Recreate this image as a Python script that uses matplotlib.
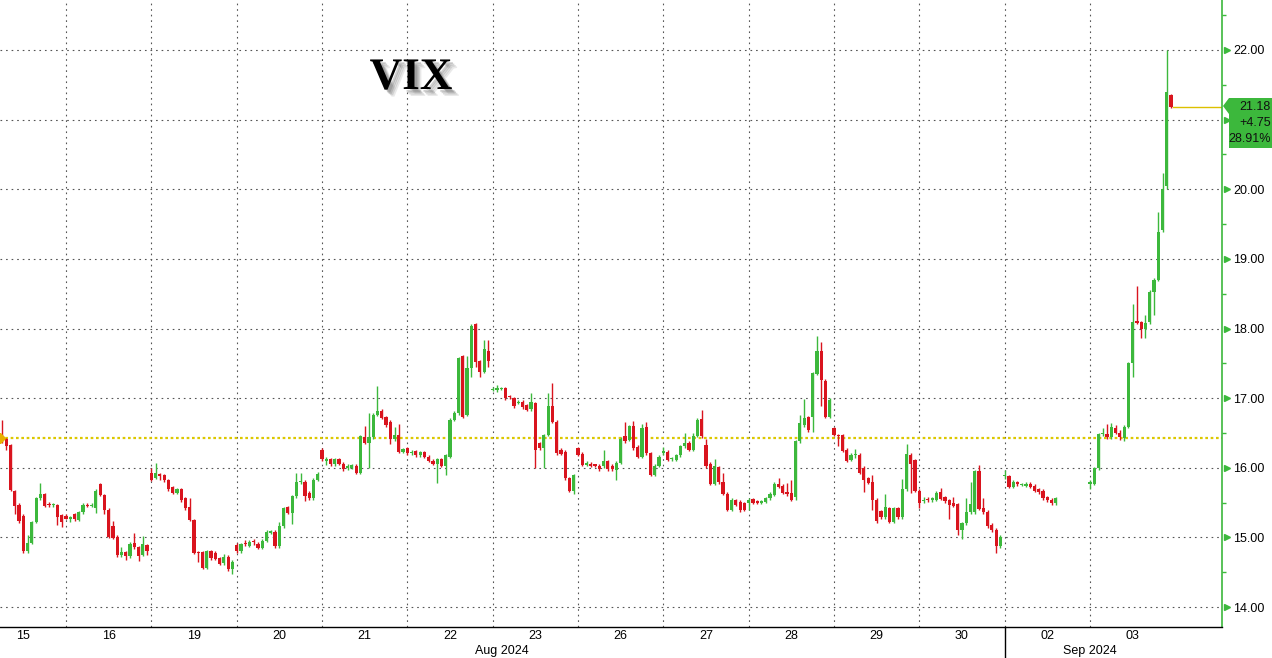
import matplotlib
matplotlib.use('Agg')
import matplotlib.pyplot as plt
import matplotlib.patheffects as pe
from matplotlib.patches import Polygon

plt.rcParams['font.family'] = ['Liberation Sans', 'DejaVu Sans']

# 20-minute VIX candles, (open, high, low, close), one list per session
aug15 = [(16.45, 16.69, 16.36, 16.40), (16.41, 16.43, 16.25, 16.31), (16.32, 16.34, 15.66, 15.68),
         (15.66, 15.68, 15.33, 15.45), (15.46, 15.49, 15.21, 15.23), (15.31, 15.33, 14.78, 14.80),
         (14.80, 15.04, 14.77, 14.92), (14.92, 15.24, 14.90, 15.22), (15.22, 15.58, 15.20, 15.56),
         (15.56, 15.78, 15.53, 15.63), (15.62, 15.64, 15.43, 15.45), (15.48, 15.51, 15.43, 15.46),
         (15.46, 15.50, 15.43, 15.48), (15.46, 15.48, 15.18, 15.30), (15.32, 15.34, 15.15, 15.22)]
aug16 = [(15.31, 15.33, 15.26, 15.27), (15.27, 15.31, 15.22, 15.29), (15.33, 15.35, 15.24, 15.26),
         (15.25, 15.38, 15.23, 15.36), (15.36, 15.49, 15.34, 15.47), (15.47, 15.50, 15.44, 15.45),
         (15.45, 15.49, 15.43, 15.47), (15.42, 15.69, 15.35, 15.67), (15.76, 15.78, 15.59, 15.61),
         (15.61, 15.63, 15.33, 15.39), (15.40, 15.42, 14.99, 15.01), (15.17, 15.23, 14.97, 14.99),
         (15.01, 15.03, 14.72, 14.74), (14.74, 14.86, 14.72, 14.79), (14.79, 14.81, 14.67, 14.73),
         (14.73, 14.93, 14.71, 14.91), (14.92, 15.07, 14.84, 14.86), (14.86, 14.88, 14.66, 14.73),
         (14.75, 15.02, 14.73, 14.90), (14.89, 14.91, 14.75, 14.81)]
aug19 = [(15.93, 16.00, 15.81, 15.83), (15.86, 16.07, 15.84, 15.92), (15.91, 15.92, 15.83, 15.88),
         (15.89, 15.91, 15.80, 15.82), (15.82, 15.84, 15.67, 15.69), (15.72, 15.74, 15.62, 15.64),
         (15.64, 15.71, 15.62, 15.69), (15.69, 15.71, 15.51, 15.53), (15.56, 15.58, 15.40, 15.42),
         (15.44, 15.57, 15.23, 15.25), (15.25, 15.27, 14.76, 14.78), (14.78, 14.80, 14.65, 14.77),
         (14.79, 14.81, 14.54, 14.56), (14.56, 14.82, 14.54, 14.80), (14.80, 14.82, 14.68, 14.70),
         (14.78, 14.80, 14.67, 14.69), (14.70, 14.72, 14.60, 14.62), (14.63, 14.76, 14.61, 14.72),
         (14.72, 14.74, 14.52, 14.54), (14.55, 14.67, 14.48, 14.65)]
aug20 = [(14.89, 14.92, 14.78, 14.80), (14.80, 14.92, 14.78, 14.90), (14.91, 14.96, 14.88, 14.90),
         (14.88, 14.96, 14.86, 14.94), (14.94, 14.97, 14.89, 14.93), (14.91, 14.93, 14.83, 14.85),
         (14.85, 14.97, 14.83, 14.95), (14.95, 15.10, 14.93, 15.08), (15.07, 15.11, 15.05, 15.08),
         (15.08, 15.10, 14.85, 14.87), (14.87, 15.22, 14.85, 15.16), (15.16, 15.44, 15.14, 15.42),
         (15.43, 15.45, 15.33, 15.35), (15.35, 15.61, 15.19, 15.59), (15.59, 15.92, 15.57, 15.80),
         (15.79, 15.92, 15.77, 15.81), (15.80, 15.82, 15.52, 15.59), (15.64, 15.66, 15.54, 15.56),
         (15.56, 15.85, 15.54, 15.83), (15.83, 15.94, 15.81, 15.91)]
aug21 = [(16.26, 16.28, 16.10, 16.12), (16.10, 16.16, 16.04, 16.13), (16.12, 16.14, 16.03, 16.05),
         (16.05, 16.14, 16.03, 16.12), (16.12, 16.14, 16.04, 16.06), (16.06, 16.08, 15.96, 15.98),
         (15.99, 16.05, 15.97, 16.03), (16.00, 16.06, 15.98, 16.04), (16.03, 16.05, 15.91, 15.93),
         (15.93, 16.47, 15.91, 16.45), (16.44, 16.60, 16.34, 16.36), (16.36, 16.78, 15.99, 16.44),
         (16.44, 16.78, 16.42, 16.76), (16.76, 17.18, 16.74, 16.82), (16.82, 16.84, 16.70, 16.72),
         (16.73, 16.75, 16.59, 16.61), (16.66, 16.68, 16.34, 16.41), (16.41, 16.59, 16.39, 16.47),
         (16.47, 16.63, 16.21, 16.23), (16.23, 16.29, 16.21, 16.27)]
aug22 = [(16.28, 16.30, 16.19, 16.21), (16.21, 16.26, 16.18, 16.23), (16.24, 16.26, 16.16, 16.18),
         (16.18, 16.24, 16.16, 16.22), (16.22, 16.24, 16.14, 16.16), (16.16, 16.18, 16.08, 16.10),
         (16.10, 16.12, 16.04, 16.06), (16.06, 16.14, 15.78, 16.12), (16.12, 16.14, 16.01, 16.03),
         (16.02, 16.20, 15.90, 16.18), (16.16, 16.72, 16.14, 16.69), (16.69, 16.82, 16.67, 16.78),
         (16.78, 17.59, 16.76, 17.57), (17.60, 17.62, 16.71, 16.73), (16.76, 17.60, 16.74, 17.43),
         (17.43, 18.06, 17.30, 18.04), (18.06, 18.08, 17.44, 17.52), (17.53, 17.55, 17.30, 17.38),
         (17.38, 17.83, 17.36, 17.70), (17.67, 17.84, 17.44, 17.54)]
aug23 = [(17.12, 17.16, 17.10, 17.13), (17.12, 17.19, 17.09, 17.14), (17.13, 17.16, 17.11, 17.14),
         (17.14, 17.16, 16.98, 17.00), (17.02, 17.04, 16.99, 17.01), (17.00, 17.02, 16.86, 16.88),
         (16.93, 16.97, 16.91, 16.95), (16.95, 16.97, 16.85, 16.87), (16.90, 16.92, 16.81, 16.83),
         (16.84, 17.08, 16.82, 16.94), (16.93, 16.95, 15.99, 16.26), (16.35, 16.37, 16.26, 16.28),
         (16.28, 16.49, 15.99, 16.47), (16.47, 17.08, 16.45, 16.88), (16.88, 17.22, 16.64, 16.66),
         (16.66, 16.68, 16.19, 16.21), (16.26, 16.28, 16.18, 16.20), (16.23, 16.25, 15.83, 15.85),
         (15.85, 15.87, 15.65, 15.67), (15.67, 15.91, 15.63, 15.89)]
aug26 = [(16.28, 16.30, 16.17, 16.19), (16.20, 16.22, 16.02, 16.04), (16.04, 16.09, 16.02, 16.07),
         (16.06, 16.08, 16.01, 16.03), (16.04, 16.06, 16.01, 16.03), (16.03, 16.05, 15.96, 15.98),
         (16.02, 16.26, 16.00, 16.09), (16.09, 16.11, 15.96, 15.98), (16.03, 16.05, 15.96, 15.98),
         (15.97, 16.09, 15.83, 16.07), (16.07, 16.44, 16.05, 16.42), (16.45, 16.66, 16.36, 16.38),
         (16.40, 16.62, 16.38, 16.60), (16.60, 16.67, 16.26, 16.28), (16.30, 16.32, 16.14, 16.16),
         (16.16, 16.63, 16.14, 16.57), (16.59, 16.66, 16.19, 16.21), (16.21, 16.23, 15.88, 15.90),
         (15.90, 16.05, 15.88, 16.03), (16.03, 16.18, 16.01, 16.16)]
aug27 = [(16.21, 16.30, 16.18, 16.24), (16.23, 16.25, 16.09, 16.11), (16.12, 16.16, 16.10, 16.14),
         (16.11, 16.20, 16.09, 16.18), (16.18, 16.33, 16.16, 16.31), (16.31, 16.50, 16.29, 16.36),
         (16.36, 16.38, 16.24, 16.26), (16.26, 16.50, 16.24, 16.46), (16.46, 16.71, 16.44, 16.69),
         (16.70, 16.83, 16.43, 16.45), (16.33, 16.42, 15.99, 16.02), (16.06, 16.08, 15.75, 15.77),
         (15.77, 16.13, 15.75, 16.03), (16.01, 16.03, 15.77, 15.79), (15.80, 15.92, 15.61, 15.63),
         (15.63, 15.65, 15.38, 15.40), (15.40, 15.56, 15.38, 15.54), (15.53, 15.55, 15.45, 15.47),
         (15.51, 15.53, 15.37, 15.39), (15.49, 15.51, 15.38, 15.40)]
aug28 = [(15.50, 15.56, 15.40, 15.54), (15.55, 15.57, 15.48, 15.50), (15.51, 15.53, 15.48, 15.50),
         (15.50, 15.54, 15.48, 15.51), (15.51, 15.58, 15.49, 15.56), (15.56, 15.65, 15.54, 15.63),
         (15.61, 15.79, 15.59, 15.77), (15.77, 15.85, 15.71, 15.73), (15.74, 15.76, 15.62, 15.64),
         (15.65, 15.78, 15.60, 15.62), (15.64, 15.83, 15.52, 15.54), (15.58, 16.40, 15.53, 16.38),
         (16.38, 16.76, 16.36, 16.64), (16.61, 16.99, 16.59, 16.71), (16.73, 16.75, 16.52, 16.54),
         (16.73, 17.38, 16.52, 17.36), (17.35, 17.89, 17.33, 17.68), (17.68, 17.80, 16.88, 17.26),
         (17.25, 17.27, 16.71, 16.73), (16.73, 17.00, 16.71, 16.98)]
aug29 = [(16.57, 16.59, 16.45, 16.47), (16.47, 16.49, 16.31, 16.45), (16.47, 16.49, 16.22, 16.24),
         (16.26, 16.28, 16.08, 16.10), (16.11, 16.21, 16.09, 16.19), (16.18, 16.27, 16.14, 16.20),
         (16.19, 16.21, 15.91, 15.93), (16.00, 16.03, 15.65, 15.83), (15.85, 15.87, 15.76, 15.78),
         (15.80, 15.90, 15.40, 15.54), (15.54, 15.56, 15.21, 15.23), (15.38, 15.40, 15.27, 15.29),
         (15.29, 15.63, 15.27, 15.44), (15.42, 15.44, 15.20, 15.22), (15.22, 15.44, 15.20, 15.42),
         (15.42, 15.44, 15.27, 15.29), (15.29, 15.84, 15.27, 15.69), (15.69, 16.34, 15.67, 16.20),
         (16.19, 16.21, 15.64, 16.06), (16.11, 16.13, 15.65, 15.67)]
aug30 = [(15.67, 15.69, 15.42, 15.49), (15.52, 15.58, 15.50, 15.54), (15.55, 15.58, 15.51, 15.53),
         (15.53, 15.58, 15.51, 15.56), (15.54, 15.66, 15.52, 15.64), (15.65, 15.71, 15.53, 15.55),
         (15.58, 15.60, 15.50, 15.52), (15.53, 15.55, 15.26, 15.47), (15.49, 15.58, 15.43, 15.45),
         (15.48, 15.50, 15.04, 15.11), (15.11, 15.22, 14.97, 15.20), (15.20, 15.56, 15.18, 15.37),
         (15.36, 15.80, 15.34, 15.48), (15.36, 15.97, 15.34, 15.95), (15.95, 16.04, 15.39, 15.41),
         (15.42, 15.56, 15.34, 15.36), (15.37, 15.39, 15.14, 15.16), (15.18, 15.20, 15.08, 15.10),
         (15.11, 15.13, 14.78, 14.87), (14.87, 15.03, 14.85, 15.01)]
sep02 = [(15.88, 15.97, 15.84, 15.90), (15.88, 15.90, 15.71, 15.73), (15.73, 15.82, 15.71, 15.80),
         (15.79, 15.81, 15.74, 15.76), (15.75, 15.78, 15.74, 15.76), (15.74, 15.79, 15.72, 15.77),
         (15.77, 15.79, 15.71, 15.73), (15.74, 15.76, 15.65, 15.67), (15.69, 15.71, 15.63, 15.65),
         (15.67, 15.69, 15.54, 15.56), (15.58, 15.60, 15.51, 15.53), (15.54, 15.56, 15.47, 15.49),
         (15.49, 15.58, 15.47, 15.56)]
sep03 = [(15.77, 15.82, 15.70, 15.79), (15.77, 16.01, 15.75, 15.99), (15.99, 16.50, 15.97, 16.48),
         (16.48, 16.57, 16.45, 16.50), (16.48, 16.63, 16.42, 16.44), (16.44, 16.64, 16.42, 16.58),
         (16.57, 16.62, 16.48, 16.50), (16.50, 16.54, 16.40, 16.44), (16.43, 16.61, 16.39, 16.59),
         (16.59, 17.52, 16.57, 17.50), (17.50, 18.35, 17.30, 18.10), (18.11, 18.61, 18.06, 18.08),
         (18.09, 18.11, 17.86, 17.99), (17.99, 18.20, 17.86, 18.08), (18.09, 18.55, 18.07, 18.53),
         (18.53, 18.72, 18.20, 18.70), (18.70, 19.68, 18.68, 19.39), (19.42, 20.23, 19.38, 20.01),
         (20.04, 22.00, 20.00, 21.40), (21.35, 21.37, 21.16, 21.18)]

sessions = [aug15, aug16, aug19, aug20, aug21, aug22, aug23, aug26, aug27, aug28, aug29, aug30, sep02, sep03]
day_labels = ['15', '16', '19', '20', '21', '22', '23', '26', '27', '28', '29', '30', '02', '03']
month_labels = ['Aug 2024', 'Sep 2024']
month_start_day = 12          # index of the first September session
prev_close = 16.43
last_price = 21.18
change = 4.75
change_pct = 28.91
y_ticks = [14, 15, 16, 17, 18, 19, 20, 21, 22]
y_minor = [14.5, 15.5, 16.5, 17.5, 18.5, 19.5, 20.5, 21.5, 22.5]

BARS = 20
GREEN = '#3cb83c'
RED = '#d9141e'
GRID = '#555555'

W, H = 1272, 658
fig = plt.figure(figsize=(W / 100, H / 100), dpi=100)
ax = fig.add_axes([0, 31 / H, 1222 / W, 627 / H])

# candles
xs, opens, highs, lows, closes = [], [], [], [], []
for d, day in enumerate(sessions):
    start = BARS - len(day) if d == 0 else 0   # first session is cut on the left
    for i, (o, h, l, c) in enumerate(day):
        xs.append(d + (start + i) / BARS)
        opens.append(o)
        highs.append(h)
        lows.append(l)
        closes.append(c)

colors = [GREEN if c >= o else RED for o, c in zip(opens, closes)]
bottoms = [min(o, c) for o, c in zip(opens, closes)]
heights = [max(abs(c - o), 0.018) for o, c in zip(opens, closes)]
ax.vlines(xs, lows, highs, colors=colors, lw=1.0, zorder=3)
ax.bar(xs, heights, bottom=bottoms, width=0.038, color=colors, lw=0, zorder=4)

x_left, x_right = 0.2265, 14.547

# grid
dots = (0, (1.5, 3.5))
for v in y_ticks:
    ax.axhline(v, color=GRID, lw=0.8, ls=dots, zorder=1)
for d in range(1, len(sessions)):
    ax.axvline(d, color=GRID, lw=0.8, ls=dots, zorder=1)
ax.plot([month_start_day, month_start_day], [0, -31 / 627], transform=ax.get_xaxis_transform(),
        color='black', lw=1.0, clip_on=False)

# previous close line
ax.axhline(prev_close, color='#dcc800', lw=1.6, ls=(0, (1.2, 1.2)), zorder=2)
ax.plot([0.0], [prev_close], transform=ax.get_yaxis_transform(), marker='D', ms=5,
        color='#e8b000', clip_on=False, zorder=5)

# last price line
ax.plot([xs[-1] + 0.02, x_right], [last_price, last_price], color='#dcc000', lw=1.0, zorder=2)

# axes styling
for s in ['top', 'left']:
    ax.spines[s].set_visible(False)
ax.spines['bottom'].set_color('black')
ax.spines['bottom'].set_linewidth(1.0)
ax.spines['right'].set_color(GREEN)
ax.spines['right'].set_linewidth(1.2)
ax.set_xticks([])
ax.yaxis.tick_right()
ax.set_yticks(y_ticks)
# the 21.00 label sits under the last-price tag
ax.set_yticklabels(['' if v == 21 else f'{v:.2f}' for v in y_ticks])
ax.set_yticks(y_minor, minor=True)
ax.tick_params(axis='y', which='major', length=0, pad=8, labelsize=9, labelcolor='black')
ax.tick_params(axis='y', which='minor', length=3, width=1, color=GREEN, direction='out')
ax.plot([1.004] * len(y_ticks), y_ticks, transform=ax.get_yaxis_transform(), ls='none',
        marker='>', ms=5, color=GREEN, clip_on=False)

ax.set_xlim(x_left, x_right)
ax.set_ylim(13.713, 22.718)

# day and month labels
xt = ax.get_xaxis_transform()
for d, lab in enumerate(day_labels):
    ax.text(d + 0.5, -0.0145, lab, transform=xt, ha='center', va='center', fontsize=9)
ax.text((x_left + month_start_day) / 2, -0.0385, month_labels[0], transform=xt,
        ha='center', va='center', fontsize=9)
ax.text(month_start_day + 1.0, -0.0385, month_labels[1], transform=xt,
        ha='center', va='center', fontsize=9)

# title
fig.text(411 / W, 1 - 78 / H, 'VIX', family=['Liberation Serif', 'DejaVu Serif'],
         fontweight='bold', fontsize=32.5, ha='center', va='center', color='black',
         path_effects=[pe.SimplePatchShadow(offset=(5, -5), shadow_rgbFace='#aaaaaa', alpha=0.25),
                       pe.SimplePatchShadow(offset=(4, -4), shadow_rgbFace='#999999', alpha=0.3),
                       pe.SimplePatchShadow(offset=(3, -3), shadow_rgbFace='#888888', alpha=0.35),
                       pe.SimplePatchShadow(offset=(2, -2), shadow_rgbFace='#777777', alpha=0.35),
                       pe.Normal()])

# last price tag
pts = [(1223, 106), (1229, 98), (1272, 98), (1272, 148), (1229, 148), (1229, 114)]
tag = Polygon([(px / W, 1 - py / H) for px, py in pts], closed=True, transform=fig.transFigure,
              facecolor=GREEN, edgecolor='none', zorder=5)
fig.patches.append(tag)
for py, txt in [(107, f'{last_price:.2f}'), (123, f'+{change:.2f}'), (139, f'{change_pct:.2f}%')]:
    fig.text(1271 / W, 1 - py / H, txt, ha='right', va='center', fontsize=9, color='#111111',
             zorder=6)

fig.savefig('out.png', dpi=100)
